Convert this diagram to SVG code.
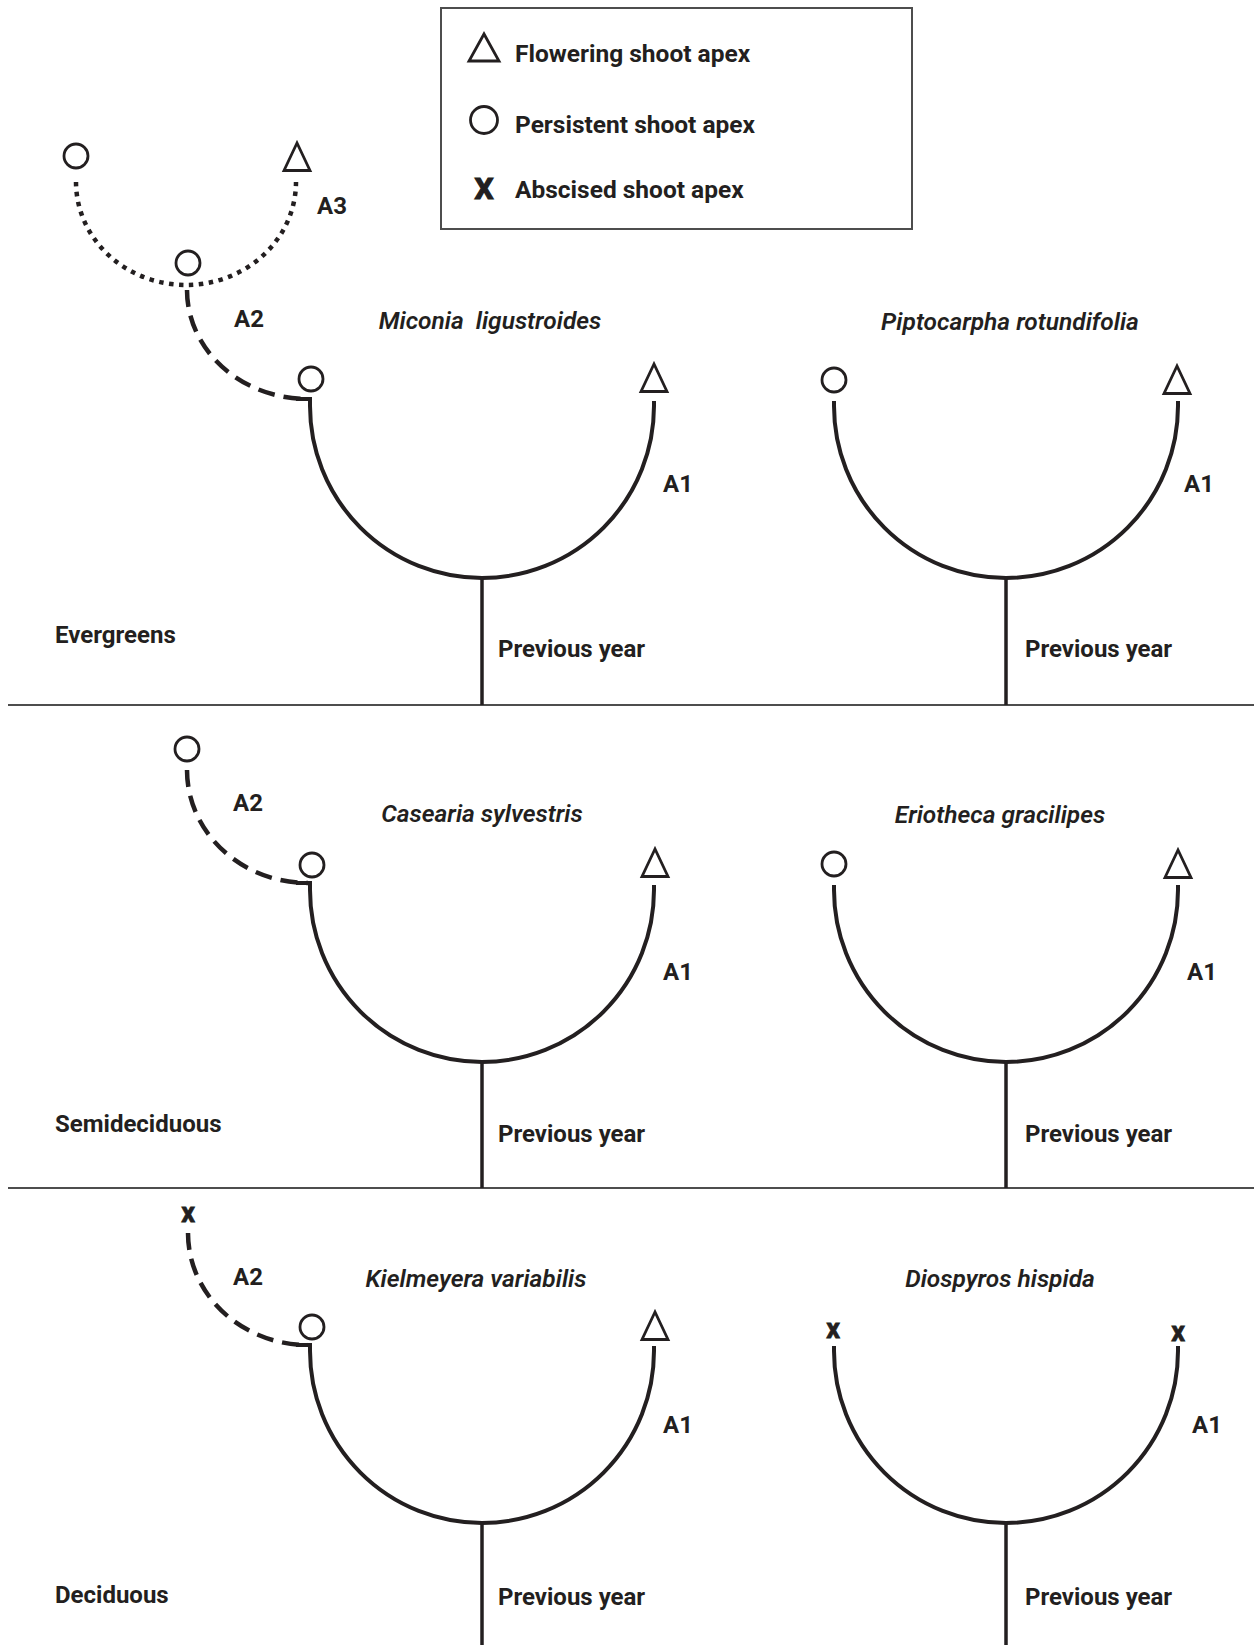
<svg xmlns="http://www.w3.org/2000/svg" width="1254" height="1645" viewBox="0 0 1254 1645">
  <style>
    text { font-family: Roboto, "Liberation Sans", sans-serif; fill: #231f20; }
    .lbl { font-size: 24px; font-weight: 700; }
    .sp { font-size: 24.5px; font-weight: 600; font-style: italic; }
    .leg { font-size: 24.5px; font-weight: 700; }
    .apx { font-size: 27px; font-weight: 700; stroke: #231f20; stroke-width: 0.8; }
    .shoot { fill: none; stroke: #231f20; stroke-width: 4; stroke-linejoin: miter; }
    .trunk { fill: none; stroke: #231f20; stroke-width: 3.5; }
    .dash { fill: none; stroke: #231f20; stroke-width: 4.5; stroke-dasharray: 17 9; }
    .dot { fill: none; stroke: #231f20; stroke-width: 4.5; stroke-dasharray: 4.5 5.5; }
    .sym { fill: none; stroke: #231f20; stroke-width: 2.8; }
    .rule { stroke: #4d4d4d; stroke-width: 2; }
  </style>
  <defs>
    <polygon id="tri" class="sym" points="0,-14 -13,13.5 13,13.5"/>
    <circle id="ring" class="sym" r="12"/>
  </defs>
  <rect width="1254" height="1645" fill="#ffffff"/>

  <!-- legend -->
  <g id="legend">
    <rect x="441" y="8" width="471" height="221" fill="none" stroke="#4d4d4d" stroke-width="2"/>
    <polygon class="sym" points="484,34 469,61 499,61"/>
    <text class="leg" x="515" y="62">Flowering shoot apex</text>
    <circle class="sym" cx="484" cy="120" r="13.5"/>
    <text class="leg" x="515" y="133">Persistent shoot apex</text>
    <text class="leg" x="484" y="199" text-anchor="middle" style="font-size:30px; stroke:#231f20; stroke-width:1.2">X</text>
    <text class="leg" x="515" y="198">Abscised shoot apex</text>
  </g>

  <!-- section dividers -->
  <g id="dividers">
    <line class="rule" x1="8" y1="705" x2="1254" y2="705"/>
    <line class="rule" x1="8" y1="1188" x2="1254" y2="1188"/>
  </g>

  <!-- section labels -->
  <g id="sections">
    <text class="lbl" x="55" y="643">Evergreens</text>
    <text class="lbl" x="55" y="1132">Semideciduous</text>
    <text class="lbl" x="55" y="1603">Deciduous</text>
  </g>

  <!-- connectors: shoot growth units -->
  <g id="connectors">
    <!-- Miconia ligustroides -->
    <path class="dot" d="M76,182 A110,103 0 0 0 296,182"/>
    <path class="dash" d="M187,290 A121,109 0 0 0 308,399"/>
    <path class="shoot" d="M296,399 H310 V406 A172,172 0 0 0 654,406 V401"/>
    <line class="trunk" x1="482" y1="578" x2="482" y2="705"/>
    <!-- Piptocarpha rotundifolia -->
    <path class="shoot" d="M834,401 V406 A172,172 0 0 0 1178,406 V401"/>
    <line class="trunk" x1="1006" y1="578" x2="1006" y2="705"/>
    <!-- Casearia sylvestris -->
    <path class="dash" d="M187,770 A121,113 0 0 0 308,883"/>
    <path class="shoot" d="M296,883 H310 V890 A172,172 0 0 0 654,890 V885"/>
    <line class="trunk" x1="482" y1="1062" x2="482" y2="1188"/>
    <!-- Eriotheca gracilipes -->
    <path class="shoot" d="M834,885 V890 A172,172 0 0 0 1178,890 V885"/>
    <line class="trunk" x1="1006" y1="1062" x2="1006" y2="1188"/>
    <!-- Kielmeyera variabilis -->
    <path class="dash" d="M188,1233 A120,112 0 0 0 308,1345"/>
    <path class="shoot" d="M296,1345 H310 V1351 A172,172 0 0 0 654,1351 V1346"/>
    <line class="trunk" x1="482" y1="1523" x2="482" y2="1645"/>
    <!-- Diospyros hispida -->
    <path class="shoot" d="M834,1346 V1351 A172,172 0 0 0 1178,1351 V1346"/>
    <line class="trunk" x1="1006" y1="1523" x2="1006" y2="1645"/>
  </g>

  <!-- Evergreens: Miconia ligustroides -->
  <g id="miconia">
    <text class="sp" x="490" y="329" text-anchor="middle" xml:space="preserve">Miconia  ligustroides</text>
    <use href="#ring" x="76" y="156"/>
    <use href="#tri" x="297" y="157"/>
    <use href="#ring" x="188" y="263"/>
    <use href="#ring" x="311" y="379"/>
    <use href="#tri" x="654" y="378"/>
    <text class="lbl" x="317" y="214">A3</text>
    <text class="lbl" x="234" y="327">A2</text>
    <text class="lbl" x="663" y="492">A1</text>
    <text class="lbl" x="498" y="657">Previous year</text>
  </g>

  <!-- Evergreens: Piptocarpha rotundifolia -->
  <g id="piptocarpha">
    <text class="sp" x="1010" y="330" text-anchor="middle">Piptocarpha rotundifolia</text>
    <use href="#ring" x="834" y="380"/>
    <use href="#tri" x="1177" y="380"/>
    <text class="lbl" x="1184" y="492">A1</text>
    <text class="lbl" x="1025" y="657">Previous year</text>
  </g>

  <!-- Semideciduous: Casearia sylvestris -->
  <g id="casearia">
    <text class="sp" x="482" y="822" text-anchor="middle">Casearia sylvestris</text>
    <use href="#ring" x="187" y="749"/>
    <use href="#ring" x="312" y="865"/>
    <use href="#tri" x="655" y="863"/>
    <text class="lbl" x="233" y="811">A2</text>
    <text class="lbl" x="663" y="980">A1</text>
    <text class="lbl" x="498" y="1142">Previous year</text>
  </g>

  <!-- Semideciduous: Eriotheca gracilipes -->
  <g id="eriotheca">
    <text class="sp" x="1000" y="823" text-anchor="middle">Eriotheca gracilipes</text>
    <use href="#ring" x="834" y="864"/>
    <use href="#tri" x="1178" y="864"/>
    <text class="lbl" x="1187" y="980">A1</text>
    <text class="lbl" x="1025" y="1142">Previous year</text>
  </g>

  <!-- Deciduous: Kielmeyera variabilis -->
  <g id="kielmeyera">
    <text class="sp" x="476" y="1287" text-anchor="middle">Kielmeyera variabilis</text>
    <text class="apx" x="188" y="1222" text-anchor="middle">x</text>
    <use href="#ring" x="312" y="1327"/>
    <use href="#tri" x="655" y="1326"/>
    <text class="lbl" x="233" y="1285">A2</text>
    <text class="lbl" x="663" y="1433">A1</text>
    <text class="lbl" x="498" y="1605">Previous year</text>
  </g>

  <!-- Deciduous: Diospyros hispida -->
  <g id="diospyros">
    <text class="sp" x="1000" y="1287" text-anchor="middle">Diospyros hispida</text>
    <text class="apx" x="833" y="1338" text-anchor="middle">x</text>
    <text class="apx" x="1178" y="1341" text-anchor="middle">x</text>
    <text class="lbl" x="1192" y="1433">A1</text>
    <text class="lbl" x="1025" y="1605">Previous year</text>
  </g>
</svg>
